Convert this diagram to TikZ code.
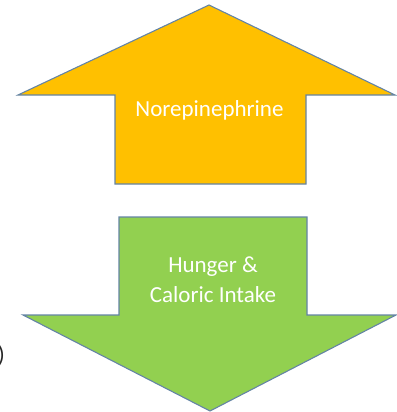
\documentclass[tikz,border=0pt]{standalone}
\usepackage{fontspec}
\setmainfont{Carlito}
\definecolor{upfill}{RGB}{255,192,0}
\definecolor{downfill}{RGB}{146,208,80}
\definecolor{edge}{RGB}{100,132,165}
\begin{document}
\begin{tikzpicture}[x=1pt,y=-1pt,
  arrowshape/.style={draw=edge,line width=1.1pt,line join=miter},
  lbl/.style={text=white,font=\fontsize{23}{30}\selectfont,align=center,inner sep=0pt}]
\useasboundingbox (0,0) rectangle (396,412);
% up arrow
\draw[arrowshape,fill=upfill] (209,5) -- (395,95) -- (306,95) -- (306,184) -- (115,184) -- (115,95) -- (18,95) -- cycle;
\node[lbl] (nor) at (209.5,110) {Norepinephrine};
% down arrow
\draw[arrowshape,fill=downfill] (119,217) -- (307,217) -- (307,315) -- (396,315) -- (210,411) -- (23,315) -- (119,315) -- cycle;
\node[lbl] (hun) at (213,280) {Hunger \&\\Caloric Intake};
% cropped stray marks at left edge
\node[text=black!85,font=\fontsize{23}{28}\selectfont,anchor=east,inner sep=0pt] (par) at (5,356) {)};
\end{tikzpicture}
\end{document}
